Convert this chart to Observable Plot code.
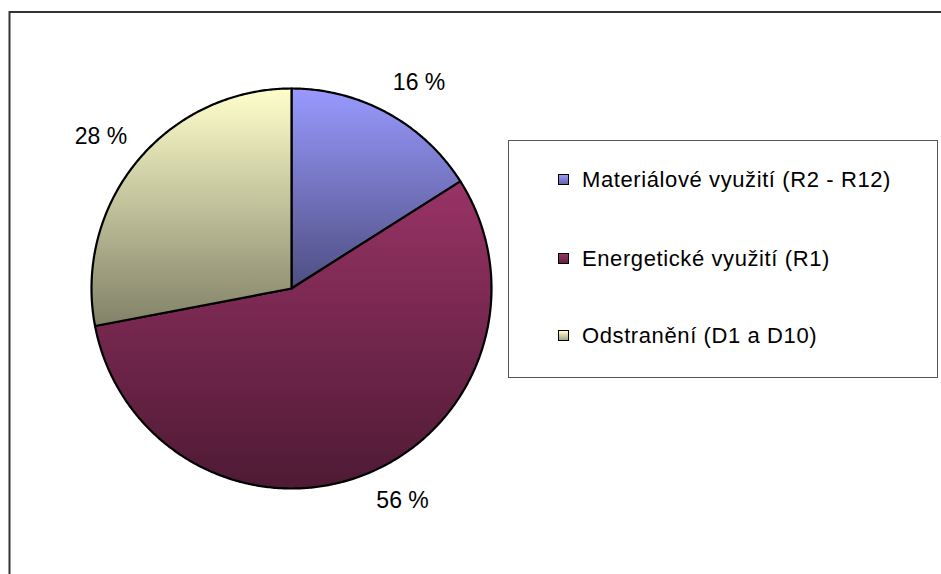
<!DOCTYPE html>
<html>
<head>
<meta charset="utf-8">
<script src="https://cdn.jsdelivr.net/npm/d3@7"></script>
<script src="https://cdn.jsdelivr.net/npm/@observablehq/plot@0.6"></script>
<style>
  html, body { margin: 0; padding: 0; background: #fff; }
  #wrap { position: relative; width: 941px; height: 574px; overflow: hidden; font-family: "Liberation Sans", Arial, sans-serif; }
  #legend { position: absolute; left: 508px; top: 140px; width: 430px; height: 238px; border: 1px solid #555; box-sizing: border-box; background: #fff; }
  .item { position: absolute; left: 49px; font-size: 22px; letter-spacing: 0.6px; color: #000; white-space: nowrap; line-height: 1; }
  .sw { position: absolute; left: 0; width: 9px; height: 9px; border: 1px solid #000; }
  .item span.t { position: absolute; left: 24px; top: 0; }
</style>
</head>
<body>
<div id="wrap"></div>
<script>
// ---- data ----
const categories = ["Materiálové využití (R2 - R12)", "Energetické využití (R1)", "Odstranění (D1 a D10)"];
const shares = [16, 56, 28];
const labels = ["16 %", "56 %", "28 %"];
const colors = ["#9999FF", "#993366", "#FFFFCC"];

// ---- layout ----
const W = 941, H = 574;
const cx = 291, cy = 288, R = 200;
const total = d3.sum(shares);

// slice polygons (angle measured clockwise from 12 o'clock)
let acc = 0;
const slices = shares.map((v, i) => {
  const a0 = acc / total * 2 * Math.PI;
  acc += v;
  const a1 = acc / total * 2 * Math.PI;
  const n = Math.max(2, Math.ceil((a1 - a0) / (Math.PI / 360)));
  const pts = [{x: 0, y: 0}];
  for (let k = 0; k <= n; k++) {
    const a = a0 + (a1 - a0) * k / n;
    pts.push({x: Math.sin(a), y: Math.cos(a)});
  }
  const mid = (a0 + a1) / 2;
  return {i, pts, mid};
});

const labelR = 1.21;
const nudges = [[11, 6], [22, -13], [-4, 2]];

const marks = [];
slices.forEach(s => {
  marks.push(Plot.line(s.pts, {x: "x", y: "y", curve: "linear-closed", fill: `url(#grad${s.i})`, stroke: "#000", strokeWidth: 2.2, strokeLinejoin: "round"}));
});
slices.forEach(s => {
  marks.push(Plot.text([s], {
    x: d => labelR * Math.sin(d.mid),
    y: d => labelR * Math.cos(d.mid),
    text: d => labels[d.i],
    fill: "#000", fontSize: 23,
    dx: nudges[s.i][0], dy: nudges[s.i][1]
  }));
});
marks.push(Plot.frame({stroke: "#333", strokeWidth: 2, insetLeft: 9, insetTop: 11.5, insetRight: -10, insetBottom: -10}));

const svg = Plot.plot({
  width: W, height: H,
  margin: 0,
  x: {domain: [-1, 1], range: [cx - R, cx + R], axis: null},
  y: {domain: [-1, 1], range: [cy + R, cy - R], axis: null},
  style: {fontFamily: "'Liberation Sans', Arial, sans-serif", background: "#fff", overflow: "visible"},
  marks
});

// gradients: colour at top fading to about half brightness at bottom of each slice
const defs = d3.create("svg:defs");
colors.forEach((c, i) => {
  const g = defs.append("linearGradient").attr("id", `grad${i}`)
    .attr("x1", 0).attr("y1", 0).attr("x2", 0).attr("y2", 1);
  g.append("stop").attr("offset", "0%").attr("stop-color", c);
  g.append("stop").attr("offset", "100%").attr("stop-color", d3.color(c).darker(1.9));
});
svg.insertBefore(defs.node(), svg.firstChild);

const wrap = document.getElementById("wrap");
wrap.appendChild(svg);

// legend
const legend = document.createElement("div");
legend.id = "legend";
const rowTops = [28, 107, 184];
categories.forEach((c, i) => {
  const item = document.createElement("div");
  item.className = "item";
  item.style.top = rowTops[i] + "px";
  const sw = document.createElement("div");
  sw.className = "sw";
  sw.style.top = "5px";
  sw.style.background = `linear-gradient(${colors[i]}, ${d3.color(colors[i]).darker(1.2)})`;
  const t = document.createElement("span");
  t.className = "t";
  t.textContent = c;
  item.appendChild(sw);
  item.appendChild(t);
  legend.appendChild(item);
});
wrap.appendChild(legend);
</script>
</body>
</html>
